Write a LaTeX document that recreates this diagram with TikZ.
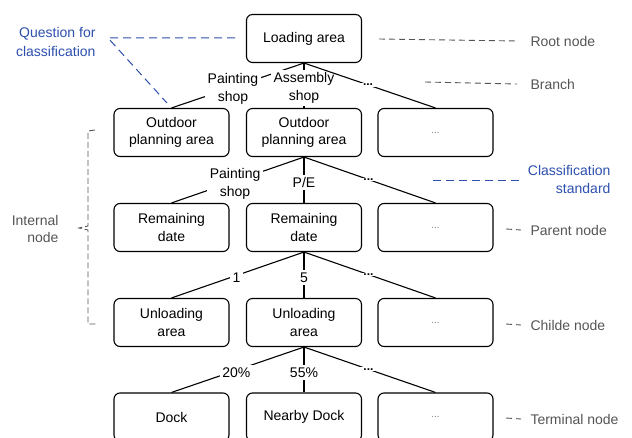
\documentclass[tikz,border=0pt]{standalone}
\usepackage{fontspec}
\setmainfont{Liberation Sans}
\definecolor{anngray}{RGB}{85,85,85}
\definecolor{annblue}{RGB}{45,80,175}
\begin{document}
\begin{tikzpicture}[x=1pt,y=-1pt,
  box/.style={draw, line width=1.1pt, rounded corners=6pt, minimum width=115pt, minimum height=48pt, inner sep=0pt, align=center, font=\fontsize{14}{17.5}\selectfont},
  edge/.style={line width=1.1pt},
  lbl/.style={fill=white, inner sep=2.5pt, align=center, font=\fontsize{14}{18}\selectfont},
  dotlbl/.style={fill=white, minimum width=30pt, inner sep=1pt, font=\bfseries\fontsize{12}{14}\selectfont},
  ann/.style={text=anngray, font=\fontsize{14}{17}\selectfont, anchor=west},
  bann/.style={text=annblue, font=\fontsize{14}{18}\selectfont, align=right},
  anndash/.style={draw=anngray, dash pattern=on 6pt off 4pt, line width=0.9pt},
  bdash/.style={draw=annblue, dash pattern=on 8pt off 5pt, line width=1pt}]
\clip (0,0) rectangle (632,438);
\fill[white] (0,0) rectangle (632,438);
% boxes
\node[box] (root) at (304,38.5) {Loading area};
\node[box] (o1) at (171.5,132.5) {Outdoor\\planning area};
\node[box] (o2) at (304,132.5) {Outdoor\\planning area};
\node[box] (o3) at (435.5,132.5) {\textcolor{gray}{\fontsize{10}{12}\selectfont ...}};
\node[box] (r1) at (171.5,227.5) {Remaining\\date};
\node[box] (r2) at (304,227.5) {Remaining\\date};
\node[box] (r3) at (435.5,227.5) {\textcolor{gray}{\fontsize{10}{12}\selectfont ...}};
\node[box] (u1) at (171.5,322.5) {Unloading\\area};
\node[box] (u2) at (304,322.5) {Unloading\\area};
\node[box] (u3) at (435.5,322.5) {\textcolor{gray}{\fontsize{10}{12}\selectfont ...}};
\node[box] (d1) at (171.5,417) {Dock};
\node[box] (d2) at (304,417) {Nearby Dock};
\node[box] (d3) at (435.5,417) {\textcolor{gray}{\fontsize{10}{12}\selectfont ...}};
% edges level 1
\draw[edge] (root.south) -- (o1.north) node[lbl, pos=0.536, yshift=-2pt] {Painting\\shop};
\draw[edge] (root.south) -- (o2.north) node[lbl, pos=0.556] {Assembly\\shop};
\draw[edge] (root.south) -- (o3.north) node[dotlbl, pos=0.487] {...};
% level 2
\draw[edge] (o2.south) -- (r1.north) node[lbl, pos=0.52, yshift=-3pt] {Painting\\shop};
\draw[edge] (o2.south) -- (r2.north) node[lbl, pos=0.55] {P/E};
\draw[edge] (o2.south) -- (r3.north) node[dotlbl, pos=0.49] {...};
% level 3
\draw[edge] (r2.south) -- (u1.north) node[lbl, pos=0.51, inner sep=3pt, yshift=-2pt] {1};
\draw[edge] (r2.south) -- (u2.north) node[lbl, pos=0.55] {5};
\draw[edge] (r2.south) -- (u3.north) node[dotlbl, pos=0.49] {...};
% level 4
\draw[edge] (u2.south) -- (d1.north) node[lbl, pos=0.51, yshift=-2.5pt] {20\%};
\draw[edge] (u2.south) -- (d2.north) node[lbl, pos=0.565] {55\%};
\draw[edge] (u2.south) -- (d3.north) node[dotlbl, pos=0.49] {...};
% right annotations
\node[ann] (rootlbl) at (527,41) {Root node};
\draw[anndash] (379,39) -- ([xshift=-10pt]rootlbl.west);
\node[ann] (brlbl) at (527,84) {Branch};
\draw[anndash] (425,82) -- ([xshift=-10pt]brlbl.west);
\node[bann, anchor=east] (cslbl) at (614,179) {Classification\\standard};
\coordinate (csend) at (433,181);
\draw[bdash] (csend) -- (523,181);
\node[ann] (parlbl) at (527,230) {Parent node};
\draw[anndash] (506,229) -- ([xshift=-6pt]parlbl.west);
\node[ann] (chlbl) at (527,325) {Childe node};
\draw[anndash] (506,324) -- ([xshift=-6pt]chlbl.west);
\node[ann] (tmlbl) at (527,419) {Terminal node};
\draw[anndash] (506,418) -- ([xshift=-6pt]tmlbl.west);
% left annotations
\node[bann, anchor=east] (qlbl) at (99,42) {Question for\\classification};
\coordinate (qc) at (108,38);
\coordinate (qr) at (235,38);
\coordinate (qd) at (167,103);
\draw[bdash] (qr) -- (qc) -- (qd);
\node[ann, anchor=east, align=right] (intlbl) at (62,229) {Internal\\node};
\draw[anndash, dash pattern=on 6pt off 3pt] (95,130) -- (88,131) -- (88,226) -- (79,228) -- (88,230) -- (88,324) -- (97,324);
\end{tikzpicture}
\end{document}
